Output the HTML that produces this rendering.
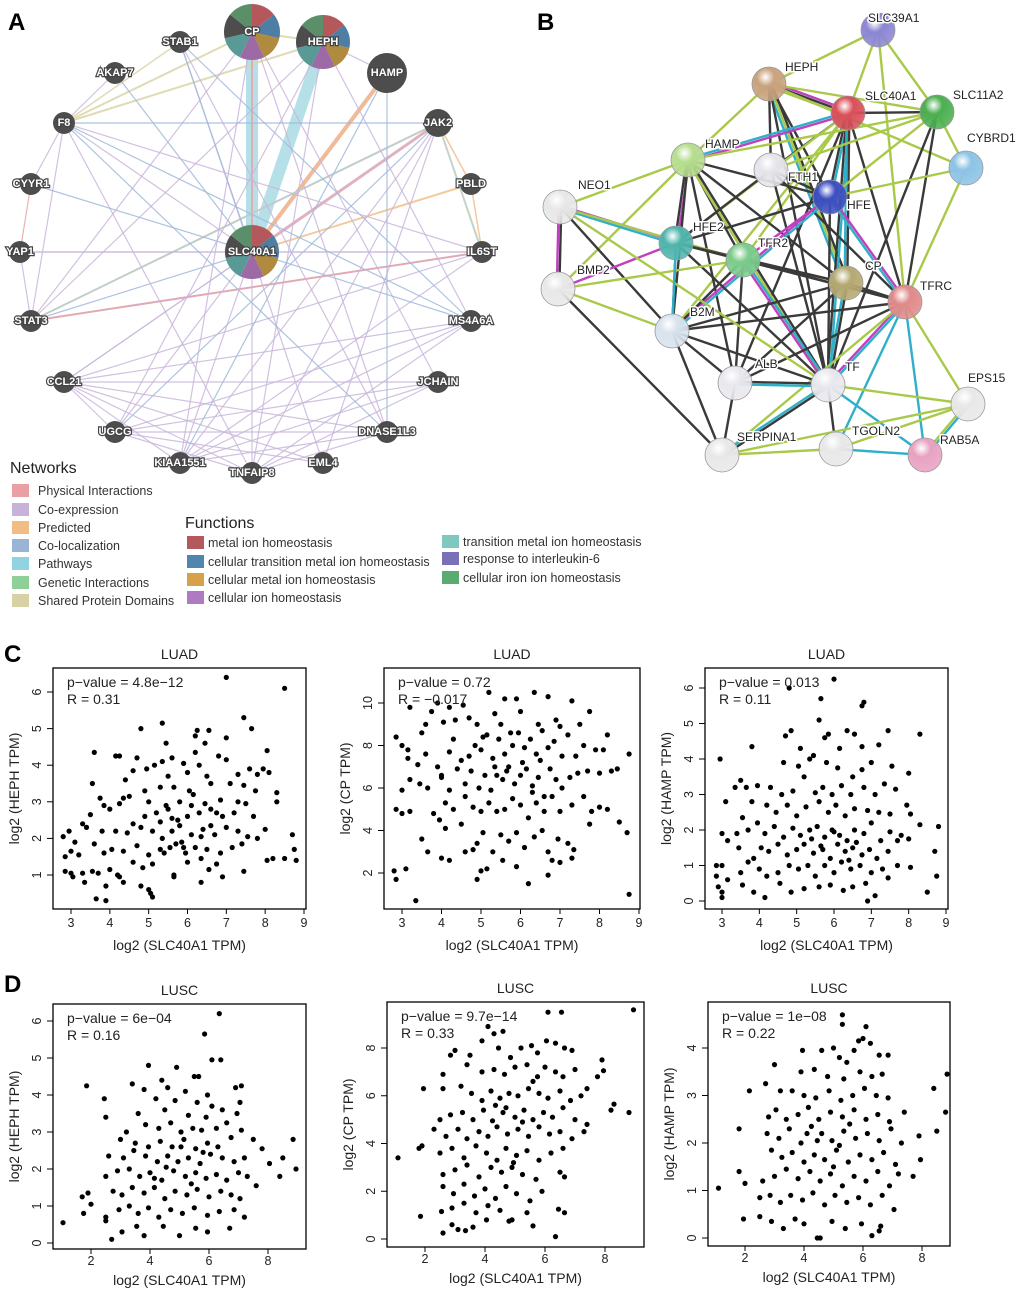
<!DOCTYPE html>
<html><head><meta charset="utf-8"><style>
html,body{margin:0;padding:0;background:#fff}
svg{display:block;font-family:"Liberation Sans",Arial,sans-serif}
.nl{font-size:11px;font-weight:bold;fill:#fff;stroke:#444;stroke-width:2.4px;paint-order:stroke;text-anchor:middle;dominant-baseline:central}
.sl{font-size:12px;fill:#222;stroke:#fff;stroke-width:3px;paint-order:stroke}
.lg{font-size:12.5px;fill:#333}
</style></head><body>
<svg id="fig" width="1020" height="1294" viewBox="0 0 1020 1294" xmlns="http://www.w3.org/2000/svg">
<defs></defs>
<g id="panelA"></g>
<g id="panelB"></g>
<g id="legend"></g>
<g id="scatters"></g>
<text x="8" y="30" font-size="24" font-weight="bold">A</text>
<text x="537" y="30" font-size="24" font-weight="bold">B</text>
<text x="4" y="662" font-size="24" font-weight="bold">C</text>
<text x="4" y="992" font-size="24" font-weight="bold">D</text>
</svg>
<script>
const NS="http://www.w3.org/2000/svg";
function mk(tag,attrs,parent){const e=document.createElementNS(NS,tag);for(const k in attrs)e.setAttribute(k,attrs[k]);parent.appendChild(e);return e;}

/* ---------- scatter data ---------- */
const luadHeph=[[7,6.4],[8.5,6.1],[5.35,5.15],[7.45,5.3],[4.8,5.0],[7.65,5.0],[6.25,4.95],[6.55,4.95],[6.2,4.8],[7.0,4.75],[5.45,4.6],[6.45,4.6],[3.6,4.35],[4.15,4.25],[4.25,4.25],[8.05,4.4],[6.2,4.35],[7.0,4.15],[5.6,4.2],[6.8,4.25],[4.7,4.2],[3.55,3.5],[5.9,4.05],[4.95,3.9],[5.15,4.0],[5.35,4.1],[6.0,3.8],[6.3,4.0],[7.6,3.9],[7.95,3.9],[4.6,3.85],[4.4,3.6],[5.5,3.7],[6.5,3.7],[7.3,3.75],[7.8,3.75],[8.1,3.8],[3.75,3.1],[4.35,3.1],[4.5,3.15],[4.9,3.3],[5.3,3.4],[5.65,3.4],[6.05,3.3],[6.6,3.5],[7.1,3.5],[7.45,3.45],[7.75,3.3],[3.85,2.9],[4.25,2.95],[5.0,3.0],[5.45,2.9],[5.8,3.0],[6.15,3.2],[6.45,2.95],[6.85,3.05],[7.3,3.0],[7.5,2.95],[8.3,3.0],[8.3,3.25],[3.3,2.4],[3.5,2.65],[4.0,2.8],[4.6,2.4],[4.9,2.6],[5.2,2.7],[5.5,2.8],[5.75,2.5],[6.0,2.6],[6.3,2.7],[6.6,2.8],[6.9,2.6],[7.2,2.7],[7.7,2.6],[2.8,2.05],[2.95,2.2],[3.1,1.9],[3.4,2.3],[3.8,2.2],[4.15,2.2],[4.45,2.15],[4.8,2.3],[5.1,2.2],[5.35,2.0],[5.6,2.2],[5.85,1.9],[6.1,2.1],[6.4,2.25],[6.7,2.1],[7.0,2.3],[7.3,2.2],[7.55,2.05],[7.8,2.0],[8.0,2.25],[8.7,2.1],[2.85,1.5],[3.0,1.65],[3.2,1.55],[3.6,1.85],[3.85,1.6],[4.05,1.7],[4.35,1.65],[4.7,1.8],[5.0,1.55],[5.3,1.7],[5.55,1.75],[5.7,1.85],[5.95,1.6],[6.2,1.75],[6.5,1.7],[6.85,1.6],[7.15,1.75],[7.4,1.85],[8.75,1.7],[2.85,1.1],[3.0,1.05],[3.3,1.05],[3.55,1.1],[3.7,1.05],[4.0,1.15],[4.2,1.0],[4.6,1.35],[4.85,1.2],[5.1,1.3],[5.4,1.6],[5.65,1.0],[6.0,1.35],[6.35,1.45],[6.55,1.15],[6.75,1.3],[7.45,1.1],[8.05,1.4],[8.2,1.45],[8.5,1.45],[8.8,1.4],[3.05,0.95],[3.35,0.8],[3.9,0.7],[4.25,0.95],[4.35,0.8],[4.8,0.7],[5.0,0.6],[5.65,0.95],[6.35,0.8],[6.9,0.95],[3.65,0.35],[3.9,0.3],[5.1,0.4],[5.05,0.5],[5.8,2.35],[6.1,2.9],[6.6,2.35],[5.6,2.55],[6.35,2.05],[5.9,1.75],[6.75,2.7],[5.3,2.45]];
const luadCp=[[2.85,8.4],[3.0,8.0],[3.15,7.8],[3.2,9.8],[3.5,8.6],[3.6,9.0],[3.75,9.6],[3.9,10.0],[4.2,9.8],[4.05,9.1],[4.35,9.2],[4.55,9.9],[4.7,9.3],[4.9,9.0],[5.05,8.4],[5.2,10.5],[5.35,9.5],[5.5,9.0],[5.6,10.2],[5.9,10.2],[6.0,9.6],[6.35,10.5],[6.45,9.0],[6.7,10.3],[6.9,9.2],[7.0,8.9],[7.3,10.1],[7.5,9.0],[7.75,9.6],[3.15,7.4],[3.4,7.1],[3.6,7.6],[3.9,7.0],[4.0,6.6],[4.2,7.7],[4.3,8.3],[4.5,7.3],[4.7,7.5],[4.85,8.0],[5.0,7.8],[5.15,8.5],[5.3,7.4],[5.45,8.3],[5.6,7.6],[5.8,8.0],[5.95,8.6],[6.1,7.9],[6.25,8.3],[6.4,7.6],[6.55,8.7],[6.7,7.9],[6.85,8.2],[7.05,7.5],[7.2,8.5],[7.4,7.5],[7.6,8.0],[7.9,7.8],[8.1,7.8],[8.2,8.5],[8.75,7.6],[3.0,5.9],[3.2,6.4],[3.45,6.2],[3.65,6.0],[4.0,6.5],[4.2,5.9],[4.4,6.9],[4.6,6.2],[4.75,6.8],[4.95,6.0],[5.1,6.6],[5.25,5.9],[5.4,6.6],[5.55,6.4],[5.7,7.0],[5.85,6.2],[6.0,6.6],[6.15,6.9],[6.3,6.1],[6.45,6.5],[6.6,5.6],[6.75,6.9],[6.9,6.4],[7.05,6.0],[7.25,6.5],[7.45,6.7],[7.7,6.8],[8.0,6.7],[8.3,6.8],[8.45,6.9],[2.85,5.0],[3.0,4.8],[3.2,4.9],[3.8,4.8],[4.1,5.3],[4.3,5.0],[4.6,5.6],[4.8,5.1],[5.0,4.9],[5.2,5.3],[5.4,4.9],[5.6,5.0],[5.8,5.5],[6.0,5.2],[6.2,4.6],[6.4,5.3],[6.6,4.9],[6.8,5.6],[7.0,4.9],[7.3,5.2],[7.6,5.6],[7.8,4.9],[8.0,5.1],[8.2,5.0],[3.5,3.6],[3.95,4.5],[4.1,4.1],[4.5,4.3],[4.8,3.1],[4.9,3.4],[5.05,3.9],[5.3,3.0],[5.5,3.8],[5.7,3.5],[5.9,3.9],[6.1,3.2],[6.35,3.7],[6.55,4.0],[6.7,3.0],[6.95,3.6],[7.2,3.4],[7.35,3.1],[7.75,4.3],[8.5,4.4],[8.7,3.9],[3.65,3.0],[4.0,2.7],[4.2,2.6],[4.6,3.0],[4.9,1.7],[5.0,2.1],[5.15,2.2],[5.55,2.6],[5.9,2.3],[6.2,1.5],[6.7,1.9],[6.8,2.6],[7.0,2.5],[7.3,2.7],[2.8,2.1],[2.85,1.7],[3.1,2.2],[3.35,0.7],[8.75,1.0],[5.75,8.6],[6.05,7.2],[6.3,5.8],[5.65,6.8],[6.5,7.3],[5.35,7.0]];
const luadHamp=[[6.0,6.25],[4.8,6.0],[5.65,5.7],[6.75,5.5],[6.8,5.6],[5.6,5.1],[4.7,4.65],[4.85,4.8],[5.75,4.6],[5.85,4.7],[6.35,4.8],[6.55,4.7],[7.45,4.8],[8.3,4.7],[3.8,4.35],[5.1,4.3],[5.45,4.1],[6.15,4.3],[6.75,4.35],[7.2,4.4],[2.95,4.0],[4.65,3.9],[5.05,3.8],[5.35,4.0],[5.8,3.9],[6.1,3.75],[6.5,3.5],[6.75,3.7],[7.0,3.9],[7.55,3.8],[8.0,3.6],[3.5,3.4],[3.65,3.2],[3.35,3.2],[3.95,3.25],[4.3,3.2],[4.6,3.0],[4.9,3.1],[5.2,3.5],[5.5,3.05],[5.7,3.2],[5.95,3.0],[6.2,3.25],[6.45,3.0],[6.8,3.2],[7.1,3.0],[7.35,3.3],[7.65,3.15],[3.1,2.8],[3.8,2.8],[4.2,2.7],[4.45,2.5],[4.75,2.7],[5.0,2.4],[5.25,2.65],[5.6,2.8],[5.85,2.5],[6.05,2.7],[6.3,2.4],[6.55,2.6],[6.9,2.55],[7.2,2.5],[7.5,2.45],[7.95,2.7],[8.05,2.45],[3.0,1.9],[3.15,1.7],[3.4,1.9],[3.55,2.35],[3.7,2.0],[3.95,2.2],[4.15,1.9],[4.4,2.1],[4.65,1.8],[4.9,2.05],[5.1,1.85],[5.35,2.0],[5.55,2.1],[5.75,1.8],[5.95,2.0],[6.15,1.85],[6.35,1.7],[6.55,2.0],[6.8,1.9],[7.0,2.2],[7.25,1.7],[7.5,1.95],[7.8,1.85],[8.3,2.15],[8.8,2.1],[3.45,1.5],[3.85,1.2],[4.05,1.5],[4.25,1.4],[4.5,1.6],[4.75,1.3],[5.0,1.45],[5.2,1.6],[5.45,1.35],[5.7,1.45],[5.9,1.2],[6.1,1.6],[6.3,1.4],[6.5,1.5],[6.75,1.3],[6.95,1.45],[7.15,1.2],[7.45,1.4],[7.7,1.7],[8.0,1.75],[8.7,1.4],[2.85,1.0],[3.0,1.0],[3.15,0.6],[3.5,0.8],[3.7,1.1],[4.0,0.9],[4.2,0.7],[4.5,0.8],[4.8,1.0],[5.05,0.9],[5.3,1.0],[5.5,0.7],[5.75,1.0],[6.0,0.8],[6.2,1.1],[6.45,0.9],[6.7,1.0],[7.0,0.8],[7.3,0.9],[7.7,1.0],[8.05,0.95],[2.85,0.7],[2.9,0.4],[3.0,0.25],[3.55,0.45],[3.85,0.25],[4.15,0.1],[4.55,0.5],[4.85,0.25],[5.2,0.35],[5.6,0.4],[5.9,0.45],[6.25,0.3],[6.5,0.4],[6.85,0.5],[6.9,0.0],[7.1,0.15],[7.45,0.65],[8.5,0.25],[8.75,0.7],[3.0,0.1],[5.65,1.55],[6.4,1.15],[6.0,1.95],[5.4,1.75],[6.6,1.65]];
const luscHeph=[[6.35,6.2],[5.85,5.65],[6.1,4.95],[6.4,4.95],[3.95,4.8],[4.9,4.75],[5.5,4.5],[5.65,4.5],[4.4,4.4],[3.4,4.3],[1.85,4.25],[6.9,4.2],[7.1,4.25],[3.8,4.15],[4.6,4.2],[5.2,4.1],[5.95,4.0],[2.45,3.9],[4.2,3.9],[4.85,3.85],[5.6,3.8],[6.1,3.7],[7.05,3.8],[3.6,3.5],[4.5,3.6],[5.3,3.45],[5.9,3.4],[6.45,3.6],[6.95,3.5],[2.5,3.4],[3.2,3.0],[3.85,3.2],[4.3,3.1],[4.7,3.25],[5.05,3.0],[5.45,3.1],[5.75,3.05],[6.25,3.1],[6.6,3.25],[7.1,3.05],[3.0,2.8],[3.5,2.7],[3.95,2.6],[4.35,2.75],[4.75,2.6],[5.15,2.8],[5.55,2.55],[5.95,2.7],[6.3,2.6],[6.75,2.85],[7.5,2.8],[7.8,2.55],[8.85,2.8],[2.6,2.35],[3.1,2.3],[3.45,2.5],[3.85,2.35],[4.25,2.2],[4.6,2.35],[4.95,2.2],[5.3,2.3],[5.7,2.15],[6.05,2.4],[6.45,2.3],[6.85,2.2],[7.2,2.3],[8.05,2.15],[8.5,2.3],[2.5,1.8],[2.9,1.95],[3.3,2.0],[3.65,1.8],[4.0,1.9],[4.4,1.7],[4.8,1.95],[5.2,1.8],[5.55,1.9],[5.9,1.75],[6.25,1.85],[6.6,1.7],[7.0,1.9],[7.3,1.8],[8.4,1.8],[8.95,2.0],[2.0,1.05],[1.7,1.25],[1.9,1.35],[2.75,1.4],[3.05,1.3],[3.4,1.5],[3.8,1.35],[4.15,1.5],[4.5,1.2],[4.85,1.4],[5.25,1.3],[5.6,1.45],[6.0,1.25],[6.4,1.4],[6.75,1.3],[7.05,1.2],[7.6,1.55],[2.5,0.7],[2.95,0.9],[3.3,1.0],[3.6,0.8],[3.95,0.95],[4.3,0.7],[4.7,0.9],[5.1,0.8],[5.5,0.95],[5.95,0.75],[6.35,0.85],[6.85,0.9],[7.2,0.7],[1.75,0.8],[1.05,0.55],[2.5,0.6],[3.05,0.3],[3.55,0.45],[3.8,0.2],[4.45,0.45],[5.0,0.2],[5.55,0.4],[5.95,0.3],[6.7,0.4],[2.7,0.1],[4.55,2.05],[5.05,2.6],[5.4,1.6],[4.15,1.75],[5.8,2.45]];
const luscCp=[[8.95,9.6],[6.1,9.5],[6.55,9.5],[4.1,8.9],[4.3,8.6],[4.6,8.7],[3.0,7.9],[2.85,7.7],[3.5,7.7],[3.9,8.3],[4.45,8.0],[4.85,7.6],[5.2,8.0],[5.55,8.1],[5.75,7.8],[6.05,8.3],[6.35,8.2],[6.65,8.0],[6.9,7.9],[7.9,7.5],[2.6,6.9],[3.4,7.3],[3.9,7.0],[4.3,7.1],[4.65,6.9],[5.0,7.2],[5.4,7.3],[5.75,6.8],[6.0,7.2],[6.35,7.0],[6.6,6.8],[7.0,7.1],[7.95,7.05],[7.75,6.8],[1.95,6.3],[2.6,6.3],[3.2,6.4],[3.55,6.1],[3.9,5.8],[4.2,6.2],[4.5,5.9],[4.8,6.1],[5.1,6.0],[5.45,6.3],[5.8,6.1],[6.1,5.9],[6.5,6.2],[6.85,5.8],[7.2,6.0],[7.4,6.3],[8.3,5.65],[8.2,5.4],[8.8,5.3],[2.5,5.0],[2.85,5.2],[3.25,5.3],[3.6,5.0],[3.95,5.4],[4.35,5.6],[4.7,5.5],[5.0,5.1],[5.3,5.4],[5.6,5.0],[5.95,5.3],[6.25,5.1],[6.6,5.5],[7.0,5.0],[7.4,4.8],[2.3,4.6],[2.7,4.3],[3.1,4.6],[3.4,4.2],[3.8,4.5],[4.1,4.3],[4.4,4.7],[4.75,4.4],[5.1,4.6],[5.45,4.3],[5.8,4.7],[6.15,4.4],[6.5,4.5],[6.9,4.2],[7.3,4.5],[1.1,3.4],[1.8,3.8],[1.9,3.9],[2.5,3.6],[2.9,3.8],[3.3,3.4],[3.7,3.9],[4.05,3.6],[4.4,3.3],[4.7,3.8],[5.05,3.5],[5.4,3.7],[5.8,3.3],[6.2,3.6],[6.6,3.8],[2.6,2.7],[3.0,2.9],[3.4,3.1],[3.8,2.6],[4.2,3.0],[4.55,2.8],[4.9,3.0],[5.25,2.7],[5.7,2.5],[6.5,2.8],[6.65,2.6],[2.6,2.2],[2.95,1.9],[3.3,2.3],[3.65,1.8],[4.0,2.1],[4.35,1.7],[4.7,2.2],[5.05,1.9],[5.5,1.6],[5.9,2.0],[2.9,1.3],[3.3,1.5],[3.7,1.1],[4.1,1.4],[4.5,1.2],[4.9,0.8],[5.4,1.1],[6.45,1.25],[6.65,1.1],[1.85,0.95],[2.55,1.15],[2.9,0.6],[3.1,0.4],[3.35,0.35],[3.6,0.5],[4.05,0.8],[4.8,0.75],[5.6,0.55],[2.6,0.25],[6.35,0.1],[4.6,5.3],[5.25,4.9],[4.95,3.2],[5.6,6.6],[4.25,4.95]];
const luscHamp=[[5.3,4.7],[5.3,4.5],[6.1,4.45],[5.85,4.15],[6.0,4.2],[5.7,3.95],[6.25,4.1],[3.95,3.95],[4.6,3.95],[5.2,3.8],[5.45,3.7],[6.55,3.85],[6.85,3.85],[5.0,4.0],[3.0,3.65],[3.9,3.5],[4.35,3.55],[4.8,3.4],[5.35,3.35],[5.9,3.5],[6.3,3.4],[6.65,3.45],[8.85,3.45],[2.7,3.25],[2.15,3.1],[3.2,3.1],[3.6,3.1],[4.0,3.0],[4.4,2.95],[4.85,3.1],[5.25,2.9],[5.65,3.0],[6.05,3.15],[6.45,3.0],[6.85,2.95],[8.4,3.15],[2.8,2.55],[3.05,2.7],[3.4,2.5],[3.8,2.6],[4.15,2.75],[4.5,2.5],[4.9,2.65],[5.3,2.55],[5.7,2.7],[6.1,2.5],[6.5,2.6],[6.9,2.45],[7.4,2.65],[8.8,2.65],[2.75,2.2],[3.15,2.1],[3.5,2.3],[3.9,2.0],[4.25,2.35],[4.6,2.2],[4.95,2.05],[5.35,2.25],[5.75,2.1],[6.15,2.2],[6.55,2.05],[6.95,2.3],[7.3,2.0],[7.9,2.15],[8.5,2.25],[1.8,2.3],[2.9,1.85],[3.25,1.7],[3.6,1.8],[4.0,1.6],[4.35,1.75],[4.7,1.65],[5.1,1.85],[5.5,1.6],[5.9,1.75],[6.3,1.65],[6.7,1.8],[7.1,1.55],[7.95,1.65],[7.7,1.3],[1.8,1.4],[2.0,1.15],[1.1,1.05],[2.6,1.2],[3.0,1.3],[3.4,1.45],[3.8,1.25],[4.2,1.4],[4.55,1.2],[4.9,1.35],[5.3,1.1],[5.7,1.3],[6.1,1.2],[6.5,1.4],[6.9,1.1],[7.2,1.35],[2.5,0.85],[2.85,0.9],[3.2,0.75],[3.55,0.9],[3.95,0.8],[4.3,0.95],[4.7,0.7],[5.05,0.9],[5.45,0.75],[5.85,0.85],[6.25,0.7],[6.65,0.9],[7.05,0.6],[1.95,0.4],[2.5,0.45],[2.9,0.35],[3.3,0.2],[3.7,0.4],[4.0,0.3],[4.45,0.0],[4.55,0.0],[4.95,0.35],[5.4,0.2],[5.95,0.3],[6.3,0.05],[6.55,0.15],[6.6,0.25],[4.45,2.05],[5.0,1.5],[5.55,2.4],[4.1,2.2],[5.2,1.95]];

const luadXTicks=[3,4,5,6,7,8,9];
const luscXTicks=[2,4,6,8];
const hephLuadYTicks=[1,2,3,4,5,6];
const cpLuadYTicks=[2,4,6,8,10];
const hampLuadYTicks=[0,1,2,3,4,5,6];
const hephLuscYTicks=[0,1,2,3,4,5,6];
const cpLuscYTicks=[0,2,4,6,8];
const hampLuscYTicks=[0,1,2,3,4];

const plots=[
 {name:'luad-heph',title:'LUAD',ylab:'log2 (HEPH TPM)',p:'p\u2212value = 4.8e\u221212',r:'R = 0.31',pts:luadHeph,xt:luadXTicks,yt:hephLuadYTicks,box:[53,668,306,909],xs:[3,71,9,304],ys:[6,692,1,875],tk:18,ti:41},
 {name:'luad-cp',title:'LUAD',ylab:'log2 (CP TPM)',p:'p\u2212value = 0.72',r:'R = \u22120.017',pts:luadCp,xt:luadXTicks,yt:cpLuadYTicks,box:[384,668,640,909],xs:[3,402,9,639],ys:[10,703,2,873],tk:18,ti:41},
 {name:'luad-hamp',title:'LUAD',ylab:'log2 (HAMP TPM)',p:'p\u2212value = 0.013',r:'R = 0.11',pts:luadHamp,xt:luadXTicks,yt:hampLuadYTicks,box:[705,668,948,909],xs:[3,722,9,946],ys:[6,688,0,901],tk:18,ti:41},
 {name:'lusc-heph',title:'LUSC',ylab:'log2 (HEPH TPM)',p:'p\u2212value = 6e\u221204',r:'R = 0.16',pts:luscHeph,xt:luscXTicks,yt:hephLuscYTicks,box:[53,1004,306,1249],xs:[2,91,8,268],ys:[0,1243,6,1021],tk:16,ti:36},
 {name:'lusc-cp',title:'LUSC',ylab:'log2 (CP TPM)',p:'p\u2212value = 9.7e\u221214',r:'R = 0.33',pts:luscCp,xt:luscXTicks,yt:cpLuscYTicks,box:[387,1002,644,1247],xs:[2,425,8,605],ys:[0,1239,8,1048],tk:16,ti:36},
 {name:'lusc-hamp',title:'LUSC',ylab:'log2 (HAMP TPM)',p:'p\u2212value = 1e\u221208',r:'R = 0.22',pts:luscHamp,xt:luscXTicks,yt:hampLuscYTicks,box:[708,1002,950,1246],xs:[2,745,8,922],ys:[0,1238,4,1048],tk:16,ti:36}
];

const sc=document.getElementById('scatters');
plots.forEach(pl=>{
 const g=mk('g',{},sc);
 
 
 const [l,t,r,b]=pl.box;
 const X=v=>pl.xs[1]+(v-pl.xs[0])*(pl.xs[3]-pl.xs[1])/(pl.xs[2]-pl.xs[0]);
 const Y=v=>pl.ys[1]+(v-pl.ys[0])*(pl.ys[3]-pl.ys[1])/(pl.ys[2]-pl.ys[0]);
 const tt=mk('text',{x:(l+r)/2,y:t-9,'font-size':14,'text-anchor':'middle',fill:'#222'},g);tt.textContent=pl.title;
 
 
 const bx=mk('rect',{x:l,y:t,width:r-l,height:b-t,fill:'none',stroke:'#000','stroke-width':1.3},g);
 
 
 const xa=mk('g',{},g);
 
 
 pl.xt.forEach(v=>{const x=X(v);mk('line',{x1:x,x2:x,y1:b,y2:b+5,stroke:'#000'},xa);
  const tx=mk('text',{x:x,y:b+pl.tk,'font-size':12.5,'text-anchor':'middle',fill:'#222'},xa);tx.textContent=v;});
 mk('line',{x1:X(pl.xt[0]),x2:X(pl.xt[pl.xt.length-1]),y1:b,y2:b,stroke:'#000'},xa);
 const xl=mk('text',{x:(l+r)/2,y:b+pl.ti,'font-size':14,'text-anchor':'middle',fill:'#222'},g);xl.textContent='log2 (SLC40A1 TPM)';
 
 
 const ya=mk('g',{},g);
 
 
 pl.yt.forEach(v=>{const y=Y(v);mk('line',{x1:l-6,x2:l,y1:y,y2:y,stroke:'#000'},ya);
  const tx=mk('text',{x:l-12,y:y,'font-size':12.5,'text-anchor':'middle',fill:'#222',transform:`rotate(-90 ${l-12} ${y})`},ya);tx.textContent=v;});
 mk('line',{x1:l,x2:l,y1:Y(pl.yt[0]),y2:Y(pl.yt[pl.yt.length-1]),stroke:'#000'},ya);
 const yx=l-34,yy=(t+b)/2;
 const yl=mk('text',{x:yx,y:yy,'font-size':14,'text-anchor':'middle',fill:'#222',transform:`rotate(-90 ${yx} ${yy})`},g);yl.textContent=pl.ylab;
 
 
 const dots=mk('g',{fill:'#000'},g);
 
 
 pl.pts.forEach(p=>{const c=mk('circle',{cx:X(p[0]).toFixed(1),cy:Y(p[1]).toFixed(1),r:2.6},dots);
  
  });
 const s1=mk('text',{x:l+14,y:t+19,'font-size':14,fill:'#222'},g);s1.textContent=pl.p;
 
 
 const s2=mk('text',{x:l+14,y:t+36,'font-size':14,fill:'#222'},g);s2.textContent=pl.r;
 
 
});

/* ---------- Panel A ---------- */
const aNodes={CP:[252,32,28],HEPH:[323,42,27],HAMP:[387,73,20],SLC:[252,252,27],STAB1:[180,42,11],AKAP7:[115,73,11],F8:[64,123,11],CYYR1:[31,184,11],YAP1:[20,252,11],STAT3:[31,321,11],CCL21:[64,382,11],UGCG:[115,432,11],KIAA:[180,463,11],TNF:[252,473,11],EML4:[323,463,11],DNASE:[387,432,11],JCHAIN:[438,382,11],MS4:[471,321,11],IL6ST:[482,252,11],PBLD:[471,184,11],JAK2:[438,123,14]};
const aLabels={CP:'CP',HEPH:'HEPH',HAMP:'HAMP',SLC:'SLC40A1',STAB1:'STAB1',AKAP7:'AKAP7',F8:'F8',CYYR1:'CYYR1',YAP1:'YAP1',STAT3:'STAT3',CCL21:'CCL21',UGCG:'UGCG',KIAA:'KIAA1551',TNF:'TNFAIP8',EML4:'EML4',DNASE:'DNASE1L3',JCHAIN:'JCHAIN',MS4:'MS4A6A',IL6ST:'IL6ST',PBLD:'PBLD',JAK2:'JAK2'};
const netColors={p:'#e9a3a6',c:'#c9b6da',o:'#f2bf8a',b:'#a0b8da',w:'#a8dbe4',g:'#92d09a',s:'#d9d5a8'};
const aEdges=[['CP','SLC','w',12],['HEPH','SLC','w',12],['HAMP','SLC','p',4],['HAMP','SLC','o',3],['JAK2','SLC','p',3],['CP','SLC','p',2],['PBLD','SLC','o',2],['JAK2','STAT3','o',2],['JAK2','STAT3','w',1.5],['JAK2','STAT3','p',1.5],['IL6ST','STAT3','p',2],['IL6ST','STAT3','c',1.5],['JAK2','IL6ST','o',2],['JAK2','IL6ST','w',1.5],['PBLD','IL6ST','o',1.5],['F8','CP','s',2],['F8','HEPH','s',2],['F8','STAB1','s',1.5],['CP','HEPH','s',2],['F8','JAK2','b',1.2],['F8','DNASE','b',1.2],['F8','MS4','b',1.2],['F8','IL6ST','c',1.2],['STAB1','SLC','b',1.2],['STAB1','DNASE','c',1.2],['STAB1','MS4','b',1.2],['CP','DNASE','c',1.2],['CP','STAT3','c',1.2],['HEPH','STAT3','c',1.2],['HEPH','UGCG','c',1.2],['HAMP','DNASE','b',1.2],['HAMP','KIAA','b',1.2],['JAK2','KIAA','c',1.2],['JAK2','TNF','c',1.2],['JAK2','EML4','c',1.2],['JAK2','CCL21','c',1.2],['IL6ST','YAP1','c',1.2],['IL6ST','CCL21','c',1.2],['MS4','UGCG','c',1.2],['MS4','KIAA','c',1.2],['MS4','TNF','c',1.2],['JCHAIN','CCL21','c',1.2],['JCHAIN','UGCG','c',1.2],['JCHAIN','KIAA','c',1.2],['DNASE','CCL21','c',1.2],['DNASE','UGCG','c',1.2],['DNASE','KIAA','c',1.2],['DNASE','TNF','c',1.2],['EML4','CCL21','c',1.2],['EML4','UGCG','c',1.2],['TNF','CCL21','c',1.2],['TNF','UGCG','c',1.2],['KIAA','CCL21','c',1.2],['UGCG','CCL21','c',1.2],['CYYR1','YAP1','p',1.2],['CYYR1','F8','c',1.2],['CYYR1','SLC','b',1.2],['YAP1','STAT3','c',1.2],['YAP1','SLC','c',1.2],['STAT3','F8','c',1.2],['CCL21','SLC','c',1.2],['UGCG','SLC','c',1.2],['KIAA','SLC','c',1.2],['TNF','SLC','c',1.2],['SLC','MS4','b',1.2],['SLC','IL6ST','c',1.2],['AKAP7','F8','c',1.2],['AKAP7','SLC','b',1.2],['F8','SLC','c',1.2],['CP','KIAA','c',1.2],['HEPH','MS4','c',1.2],['HEPH','TNF','c',1.2],['STAB1','EML4','c',1.2],['F8','TNF','c',1.2],['JAK2','PBLD','o',1.5],['HAMP','HEPH','c',1.2],['JAK2','UGCG','b',1.2],['IL6ST','KIAA','c',1.2],['MS4','CCL21','c',1.2],['JCHAIN','TNF','c',1.2],['CP','JCHAIN','c',1.2],['STAT3','SLC','b',1.2],['STAT3','IL6ST','p',1.2]];
const pA=document.getElementById('panelA');
const ea=mk('g',{'stroke-linecap':'butt'},pA);


aEdges.slice().sort((a,b)=>a[3]-b[3]).reverse().forEach(e=>{const a=aNodes[e[0]],b=aNodes[e[1]];
 const ln=mk('line',{x1:a[0],y1:a[1],x2:b[0],y2:b[1],stroke:netColors[e[2]],'stroke-width':e[3],'stroke-opacity':0.85},ea);
 
 });
const pieCols=['#b4585c','#4e7ea3','#b08a3e','#9e6aa6','#5a9a96','#4d4d4d','#5a8f6a'];
Object.keys(aNodes).forEach(k=>{const [x,y,r]=aNodes[k];
 const g=mk('g',{},pA);
 
 
 if(k==='CP'||k==='HEPH'||k==='SLC'){
  for(let i=0;i<7;i++){const a0=-Math.PI/2+i*2*Math.PI/7,a1=a0+2*Math.PI/7;
   mk('path',{d:`M${x},${y}L${x+r*Math.cos(a0)},${y+r*Math.sin(a0)}A${r},${r} 0 0 1 ${x+r*Math.cos(a1)},${y+r*Math.sin(a1)}Z`,fill:pieCols[i]},g);}
 } else mk('circle',{cx:x,cy:y,r:r,fill:'#4d4d4d'},g);
 const t=mk('text',{x:x,y:y,class:'nl'},g);t.textContent=aLabels[k];
});

/* ---------- Panel B ---------- */
const bNodes={SLC39A1:[878,30,'#8c86d4'],HEPH:[769,84,'#c9a27e'],SLC40A1:[848,113,'#d9505a'],SLC11A2:[937,112,'#4caf50'],CYBRD1:[966,168,'#8cc3e6'],HAMP:[688,160,'#b6dd8f'],FTH1:[771,170,'#e4e4ea'],HFE:[830,197,'#3d4fc0'],NEO1:[560,207,'#e8e8e8'],HFE2:[676,243,'#4fb5ac'],TFR2:[743,260,'#7ccc8c'],CP:[846,283,'#b5a971'],TFRC:[905,302,'#e08a8a'],BMP2:[558,289,'#e8e8e8'],B2M:[672,331,'#d8e3ee'],ALB:[735,383,'#e8e8ee'],TF:[828,385,'#e8e8ee'],EPS15:[968,404,'#e8e8e8'],SERPINA1:[722,455,'#e8e8e8'],TGOLN2:[836,449,'#e8e8e8'],RAB5A:[925,455,'#e8a2c2']};
const bLabelPos={SLC39A1:[868,22],HEPH:[785,71],SLC40A1:[865,100],SLC11A2:[953,99],CYBRD1:[967,142],HAMP:[705,148],FTH1:[788,181],HFE:[847,209],NEO1:[578,189],HFE2:[693,231],TFR2:[758,247],CP:[865,270],TFRC:[920,290],BMP2:[577,274],B2M:[690,316],ALB:[755,368],TF:[845,371],EPS15:[968,382],SERPINA1:[737,441],TGOLN2:[852,435],RAB5A:[940,444]};
const strCols={y:'#a9c94a',k:'#3a3a3a',c:'#2fb0c8',m:'#c040c0'};
const bEdges=[['SLC39A1','HEPH','y'],['SLC39A1','SLC40A1','y'],['SLC39A1','SLC11A2','y'],['SLC39A1','TFRC','y'],['HEPH','SLC40A1','mky'],['HEPH','CP','kyc'],['HEPH','HAMP','y'],['HEPH','FTH1','k'],['HEPH','HFE','k'],['HEPH','TF','k'],['HEPH','CYBRD1','y'],['HEPH','SLC11A2','y'],['SLC40A1','SLC11A2','k'],['SLC40A1','HAMP','mc'],['SLC40A1','HFE','ck'],['SLC40A1','TF','ck'],['SLC40A1','CP','kc'],['SLC40A1','TFRC','k'],['SLC40A1','FTH1','k'],['SLC40A1','HFE2','y'],['SLC40A1','TFR2','y'],['SLC40A1','ALB','k'],['SLC40A1','B2M','y'],['SLC11A2','CYBRD1','y'],['SLC11A2','TFRC','k'],['SLC11A2','TF','k'],['SLC11A2','HFE','y'],['SLC11A2','FTH1','y'],['SLC11A2','HAMP','y'],['CYBRD1','TFRC','y'],['CYBRD1','HFE','y'],['HAMP','HFE2','mk'],['HAMP','TFR2','k'],['HAMP','HFE','k'],['HAMP','BMP2','y'],['HAMP','NEO1','y'],['HAMP','TF','ky'],['HAMP','CP','k'],['HAMP','B2M','k'],['HAMP','ALB','k'],['FTH1','HFE','k'],['FTH1','TFRC','k'],['FTH1','TF','k'],['FTH1','HFE2','k'],['HFE','TFR2','m'],['HFE','TFRC','mc'],['HFE','B2M','cm'],['HFE','TF','k'],['HFE','HFE2','k'],['NEO1','HFE2','mc'],['NEO1','BMP2','km'],['NEO1','TFR2','y'],['NEO1','B2M','k'],['HFE2','TFR2','k'],['HFE2','BMP2','m'],['HFE2','TF','k'],['HFE2','CP','k'],['HFE2','TFRC','y'],['TFR2','TF','cm'],['TFR2','TFRC','k'],['TFR2','CP','k'],['TFR2','B2M','k'],['TFR2','ALB','k'],['CP','TF','kc'],['CP','TFRC','k'],['CP','ALB','k'],['CP','B2M','k'],['TFRC','TF','cm'],['TFRC','B2M','k'],['TFRC','EPS15','y'],['TFRC','RAB5A','c'],['TFRC','TGOLN2','c'],['TFRC','ALB','k'],['TFRC','SERPINA1','y'],['B2M','ALB','k'],['B2M','TF','k'],['B2M','SERPINA1','k'],['B2M','HFE2','k'],['ALB','TF','kc'],['ALB','SERPINA1','k'],['TF','SERPINA1','kc'],['TF','TGOLN2','k'],['TF','EPS15','y'],['TF','RAB5A','c'],['EPS15','RAB5A','cy'],['EPS15','TGOLN2','y'],['RAB5A','TGOLN2','c'],['SERPINA1','TGOLN2','y'],['BMP2','B2M','y'],['BMP2','TFR2','y'],['BMP2','SERPINA1','k'],['NEO1','TF','y'],['SERPINA1','EPS15','y'],['HFE2','B2M','c'],['TFRC','HFE2','k']];
const pB=document.getElementById('panelB');
const defs=document.querySelector('defs');
const eb=mk('g',{'stroke-width':2.4,'stroke-linecap':'round'},pB);


bEdges.forEach(e=>{const a=bNodes[e[0]],b=bNodes[e[1]];
 const dx=b[0]-a[0],dy=b[1]-a[1],L=Math.hypot(dx,dy),nx=-dy/L,ny=dx/L;const n=e[2].length;
 for(let i=0;i<n;i++){const o=(i-(n-1)/2)*2.6;
  const ln=mk('line',{x1:a[0]+nx*o,y1:a[1]+ny*o,x2:b[0]+nx*o,y2:b[1]+ny*o,stroke:strCols[e[2][i]]},eb);
  
  }
});
Object.keys(bNodes).forEach((k,i)=>{const [x,y,c]=bNodes[k];
 const gr=mk('radialGradient',{id:'gb'+i,cx:'0.4',cy:'0.3',r:'0.75'},defs);
 mk('stop',{offset:'0','stop-color':'#ffffff'},gr);mk('stop',{offset:'0.35','stop-color':c},gr);mk('stop',{offset:'1','stop-color':c,'stop-opacity':'0.85'},gr);
 const g=mk('g',{},pB);
 
 
 mk('circle',{cx:x,cy:y,r:17,fill:`url(#gb${i})`,stroke:'#999','stroke-width':0.8},g);
 const lp=bLabelPos[k];const t=mk('text',{x:lp[0],y:lp[1],class:'sl'},g);t.textContent=k;
});

/* ---------- Legend ---------- */
const lgRoot=document.getElementById('legend');
const netNames=['Physical Interactions','Co-expression','Predicted','Co-localization','Pathways','Genetic Interactions','Shared Protein Domains'];
const netSw=['#e8a0a4','#c7b2d9','#f2bd85','#9ab4d6','#8fd4e0','#8fcf98','#d6d2a6'];
const netRowY=[491,510,528,546,564,583,601];
const fnNames=['metal ion homeostasis','cellular transition metal ion homeostasis','cellular metal ion homeostasis','cellular ion homeostasis','transition metal ion homeostasis','response to interleukin-6','cellular iron ion homeostasis'];
const fnSw=['#b4585c','#4e86b0','#d9a04a','#b07ac0','#7fc8c0','#7a70b8','#5aab72'];
const fnPos=[[187,543],[187,562],[187,580],[187,598],[442,542],[442,559],[442,578]];
const nt=mk('text',{x:10,y:473,'font-size':16,fill:'#222'},lgRoot);nt.textContent='Networks';


netNames.forEach((n,i)=>{const g=mk('g',{},lgRoot);
 
 
 mk('rect',{x:12,y:netRowY[i]-7,width:17,height:13,fill:netSw[i]},g);
 const t=mk('text',{x:38,y:netRowY[i]+4,class:'lg'},g);t.textContent=n;});
const ft=mk('text',{x:185,y:528,'font-size':16,fill:'#222'},lgRoot);ft.textContent='Functions';


fnNames.forEach((n,i)=>{const g=mk('g',{},lgRoot);
 
 
 mk('rect',{x:fnPos[i][0],y:fnPos[i][1]-7,width:17,height:13,fill:fnSw[i]},g);
 const t=mk('text',{x:fnPos[i][0]+21,y:fnPos[i][1]+4,class:'lg'},g);t.textContent=n;});
</script>
</body></html>
